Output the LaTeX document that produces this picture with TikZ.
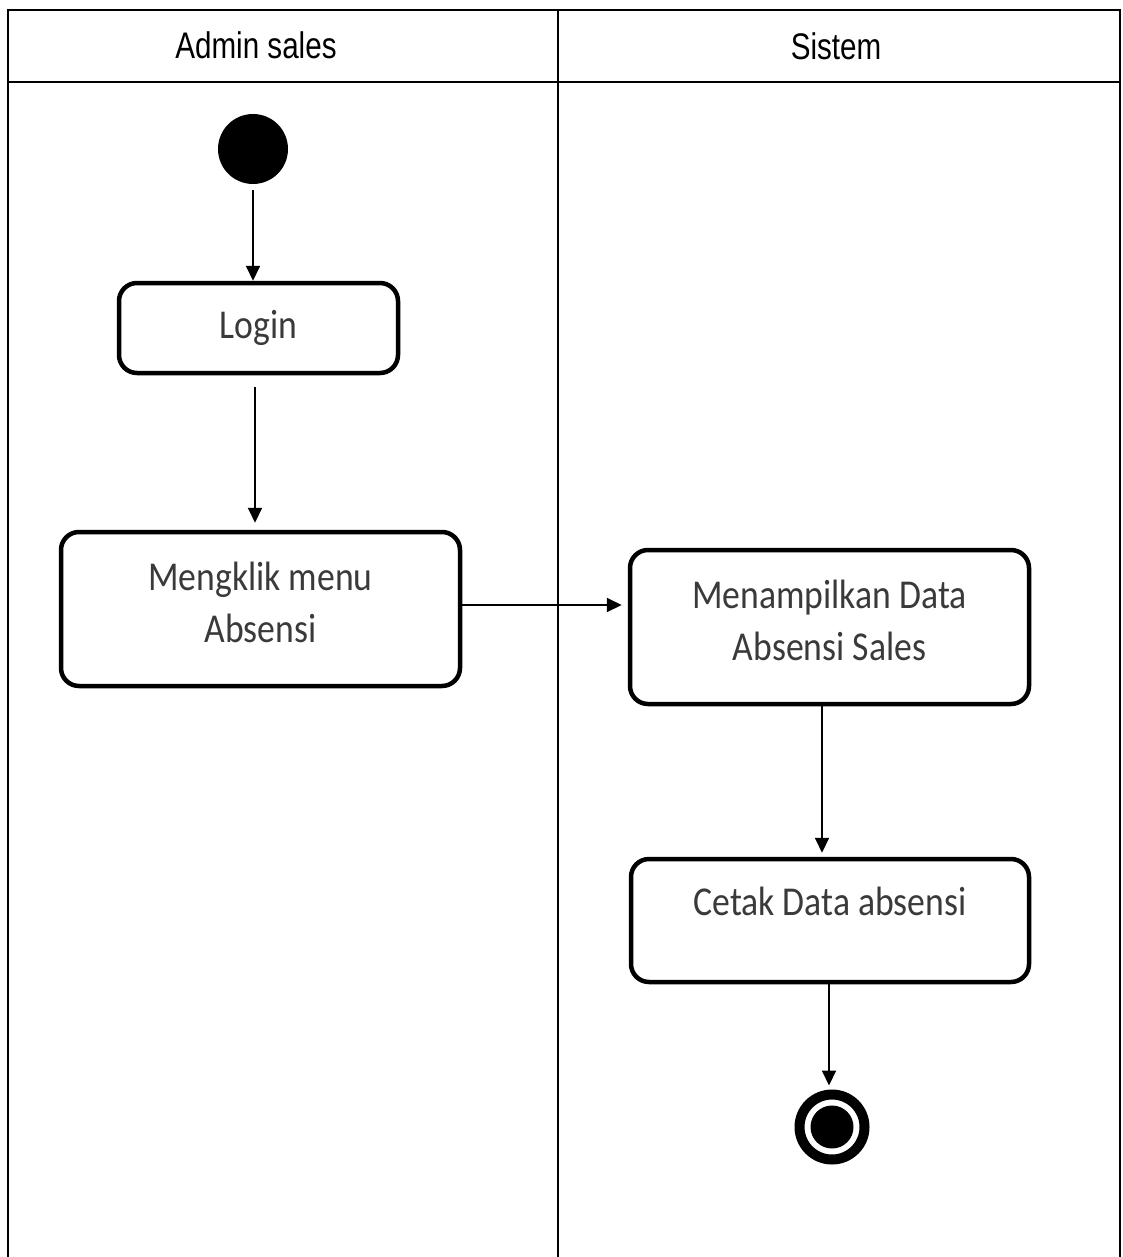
\documentclass[tikz,border=0pt]{standalone}
\usepackage{fontspec}
\usetikzlibrary{arrows.meta,calc}
\newfontfamily\boxface[FakeStretch=0.87]{Carlito}
\newfontfamily\laneface[FakeStretch=0.8]{Liberation Sans}
\definecolor{labelgray}{HTML}{3A3A3A}
\begin{document}
\begin{tikzpicture}[x=1pt,y=-1pt,
  lane/.style={line width=2pt},
  lanetitle/.style={font=\laneface\fontsize{37}{44}\selectfont, inner sep=0pt},
  action/.style={draw, line width=4.5pt, rounded corners=18pt, align=center,
    font=\boxface\fontsize{41}{52}\selectfont, text=labelgray, inner sep=0pt},
  twoline/.style={text depth=13pt},
  actiontext/.style={font=\boxface\fontsize{41}{52}\selectfont, text=labelgray, inner sep=0pt},
  flow/.style={line width=2pt, -{Triangle[length=15pt,width=14pt]}}
]
\useasboundingbox (0,0) rectangle (1122,1257);
\fill[white] (0,0) rectangle (1122,1257);

% swimlane frame
\draw[lane] (8,1257) -- (8,10) -- (1120,10) -- (1120,1257);
\draw[lane] (8,82) -- (1120,82);
\draw[lane] (558,10) -- (558,1257);
\node[lanetitle] (laneA) at (256,45) {Admin sales};
\node[lanetitle] (laneB) at (836,46) {Sistem};

% initial and final states
\node[circle, fill, minimum size=70pt, inner sep=0pt] (start) at (253,149) {};
\node[circle, draw, line width=10pt, minimum size=65pt, inner sep=0pt] (stop) at (832,1127) {};
\fill (stop.center) circle[radius=21.5pt];

% actions
\node[action, minimum width=279pt, minimum height=90pt] (login) at (258.5,328) {Login};
\node[action, twoline, minimum width=399pt, minimum height=154pt] (klik) at (260.5,609) {Mengklik menu\\Absensi};
\node[action, twoline, minimum width=399pt, minimum height=154pt] (tampil) at (829.5,627) {Menampilkan Data\\Absensi Sales};
\node[action, minimum width=398pt, minimum height=123pt] (cetak) at (830,920.5) {};
\node[actiontext] (cetaklabel) at ($(cetak.north)+(0,45)$) {Cetak Data absensi};

% control flow
\draw[flow, shorten <=6pt] (start.south) -- (start.south |- login.north);
\draw[flow, shorten <=12pt, shorten >=7pt] (login.south -| 255,0) -- (klik.north -| 255,0);
\draw[flow, shorten >=6pt] (klik.east |- 0,605) -- (tampil.west |- 0,605);
\draw[flow, shorten >=4pt] (tampil.south -| 822,0) -- (cetak.north -| 822,0);
\draw[flow, shorten >=4pt] (cetak.south -| 829,0) -- (stop.north -| 829,0);
\end{tikzpicture}
\end{document}
